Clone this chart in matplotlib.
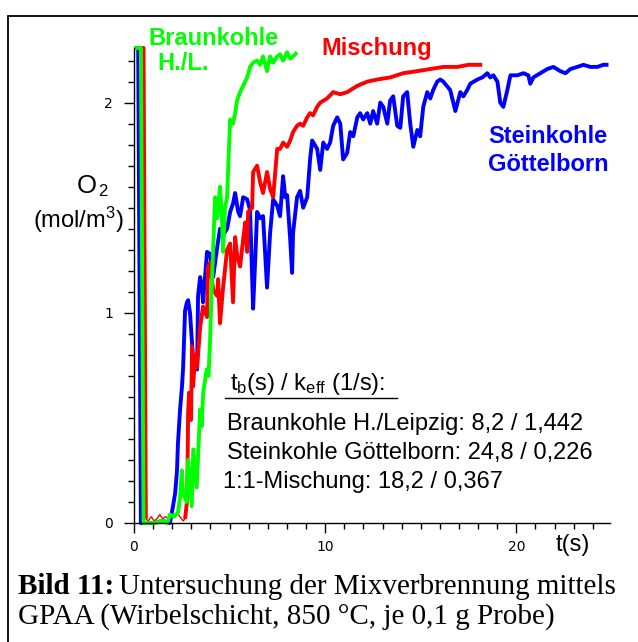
import matplotlib.pyplot as plt
import numpy as np
from matplotlib.patches import Rectangle
from matplotlib.lines import Line2D

plt.rcParams['font.family'] = ['Liberation Sans', 'DejaVu Sans']
plt.rcParams['mathtext.fontset'] = 'custom'
plt.rcParams['mathtext.rm'] = 'Liberation Sans'
plt.rcParams['mathtext.it'] = 'Liberation Sans'

# Braunkohle H./Leipzig
t_braun = [0.0, 0.36, 0.50, 0.6, 1.0, 1.5, 1.75, 1.88, 2.1, 2.3, 2.41, 2.50, 2.57, 2.76,
           2.83, 3.02, 3.10, 3.28, 3.46, 3.54, 3.62, 3.80, 3.90, 3.98, 4.05, 4.14, 4.24,
           4.35, 4.50, 4.60, 4.66, 4.76, 4.87, 4.92, 5.03, 5.18, 5.29, 5.39, 5.55, 5.71,
           5.92, 6.07, 6.23, 6.44, 6.60, 6.75, 6.96, 7.12, 7.28, 7.49, 7.64, 7.80, 8.01,
           8.17, 8.32, 8.53]
o2_braun = [2.26, 2.26, 0.0, 0.0, 0.0, 0.01, 0.0, 0.04, 0.03, 0.05, 0.12, 0.25, 0.14, 0.10,
            0.30, 0.08, 0.35, 0.17, 0.54, 0.46, 0.62, 0.73, 0.70, 0.87, 1.08, 1.30, 1.55,
            1.45, 1.60, 1.45, 1.29, 1.50, 1.55, 1.67, 1.92, 1.90, 1.95, 2.01, 2.05, 2.08,
            2.12, 2.17, 2.19, 2.20, 2.18, 2.22, 2.15, 2.22, 2.19, 2.22, 2.23, 2.20, 2.24,
            2.21, 2.22, 2.24]

# Steinkohle Göttelborn
t_stein = [0.0, 0.22, 0.36, 1.0, 1.5, 1.88, 2.04, 2.15, 2.25, 2.30, 2.41, 2.51, 2.57, 2.67,
           2.77, 2.83, 2.93, 3.09, 3.30, 3.35, 3.46, 3.56, 3.61, 3.82, 3.98, 4.14, 4.35,
           4.50, 4.66, 4.87, 5.03, 5.18, 5.29, 5.45, 5.55, 5.71, 5.92, 6.07, 6.23, 6.34,
           6.44, 6.60, 6.75, 6.96, 7.12, 7.28, 7.49, 7.64, 7.80, 7.91, 8.01, 8.17, 8.27,
           8.32, 8.53, 8.69, 8.85, 9.06, 9.21, 9.32, 9.58, 9.74, 9.90, 10.10, 10.26, 10.42,
           10.63, 10.79, 10.94, 11.15, 11.31, 11.47, 11.68, 11.83, 11.99, 12.20, 12.36,
           12.51, 12.72, 12.88, 13.04, 13.25, 13.40, 13.56, 13.77, 13.93, 14.08, 14.29,
           14.45, 14.61, 14.82, 14.97, 15.13, 15.34, 15.50, 15.65, 15.86, 16.02, 16.18,
           16.54, 16.81, 17.07, 17.23, 17.43, 17.59, 17.96, 18.22, 18.48, 18.64, 18.80,
           19.01, 19.16, 19.32, 19.53, 19.69, 20.05, 20.37, 20.63, 20.73, 20.89, 21.26,
           21.62, 21.94, 22.30, 22.57, 22.83, 23.19, 23.51, 23.87, 24.24, 24.55, 24.82]
o2_stein = [2.26, 2.26, 0.0, 0.0, 0.01, 0.0, 0.08, 0.14, 0.25, 0.38, 0.54, 0.65, 0.74, 1.01,
            1.05, 1.06, 1.00, 0.78, 0.73, 1.08, 1.17, 1.12, 1.05, 1.29, 1.28, 1.17, 1.31,
            1.40, 1.37, 1.40, 1.48, 1.52, 1.57, 1.48, 1.46, 1.55, 1.54, 1.49, 1.02, 1.25,
            1.48, 1.45, 1.46, 1.12, 1.38, 1.54, 1.51, 1.46, 1.65, 1.55, 1.56, 1.35, 1.19,
            1.38, 1.55, 1.58, 1.50, 1.55, 1.73, 1.82, 1.78, 1.68, 1.81, 1.78, 1.81, 1.89,
            1.93, 1.90, 1.73, 1.76, 1.86, 1.84, 1.93, 1.95, 1.92, 1.95, 1.90,
            1.96, 1.90, 2.00, 1.98, 1.90, 2.01, 2.03, 1.89, 1.88, 2.03, 2.05,
            1.90, 1.79, 1.87, 1.84, 1.98, 2.05, 2.02, 2.06, 2.10, 2.11, 2.10,
            2.06, 1.96, 2.05, 2.03, 2.06, 2.09, 2.11, 2.12, 2.14, 2.12, 2.13,
            2.10, 2.00, 1.98, 2.06, 2.13, 2.13, 2.14, 2.13, 2.09, 2.12, 2.14,
            2.16, 2.17, 2.15, 2.14, 2.16, 2.17, 2.18, 2.17, 2.17, 2.18, 2.18]

# 1:1-Mischung
t_misch = [0.0, 0.50, 0.62, 0.75, 0.9, 1.05, 1.2, 1.35, 1.5, 1.65, 1.8, 1.95, 2.1, 2.25,
           2.4, 2.57, 2.67, 2.77, 2.80, 2.83, 2.88, 2.98, 3.04, 3.09, 3.20, 3.30, 3.46,
           3.61, 3.82, 3.87, 3.98, 4.14, 4.35, 4.40, 4.50, 4.66, 4.87, 5.03, 5.18, 5.29,
           5.40, 5.55, 5.71, 5.82, 5.92, 5.97, 6.18, 6.23, 6.44, 6.60, 6.75, 6.96, 7.12,
           7.28, 7.49, 7.64, 7.80, 8.01, 8.17, 8.32, 8.53, 8.69, 8.85, 9.06, 9.21, 9.37,
           9.58, 9.74, 10.10, 10.42, 10.79, 11.15, 11.68, 12.20, 12.72, 13.40, 14.08,
           14.82, 15.50, 16.18, 16.91, 17.50, 18.22]
o2_misch = [2.26, 2.26, 0.02, 0.01, 0.03, 0.01, 0.02, 0.04, 0.02, 0.03, 0.02, 0.04, 0.03,
            0.05, 0.03, 0.01, 0.02, 0.10, 0.25, 0.52, 0.62, 0.49, 0.84, 0.65, 0.80, 0.74,
            0.93, 1.03, 0.98, 1.22, 1.24, 1.11, 1.08, 1.16, 0.95, 1.12, 1.30, 1.33, 1.05,
            1.36, 1.27, 1.22, 1.35, 1.43, 1.29, 1.48, 1.50, 1.67, 1.70, 1.62, 1.57, 1.67,
            1.59, 1.55, 1.78, 1.78, 1.81, 1.79, 1.82, 1.86, 1.89, 1.90, 1.89, 1.93, 1.95,
            1.94, 1.98, 2.00, 2.02, 2.05, 2.04, 2.05, 2.08, 2.10, 2.11, 2.12, 2.14, 2.15,
            2.16, 2.17, 2.17, 2.18, 2.18]

W, H = 638, 642
fig = plt.figure(figsize=(W / 100, H / 100), dpi=100)


def fx(px):
    return px / W


def fy(py):
    return 1 - py / H


ax = fig.add_axes([fx(134), fy(523), fx(610) - fx(134), fy(48) - fy(523)])

lw = 2.8
ax.plot(t_stein, o2_stein, color='#0000ff', lw=lw, clip_on=False, solid_capstyle='butt')
# thin baseline stretch of the mixture run
t_m = np.array(t_misch)
o_m = np.array(o2_misch)
i0 = np.searchsorted(t_m, 0.62)
i1 = np.searchsorted(t_m, 2.67)
ax.plot(t_m[:i0 + 1], o_m[:i0 + 1], color='#ff0000', lw=lw, clip_on=False, solid_capstyle='butt')
ax.plot(t_m[i0:i1 + 1], o_m[i0:i1 + 1], color='#ff0000', lw=1.0, clip_on=False)
ax.plot(t_m[i1:], o_m[i1:], color='#ff0000', lw=lw, clip_on=False, solid_capstyle='butt')
ax.plot(t_braun, o2_braun, color='#00ff00', lw=lw, clip_on=False, solid_capstyle='butt')

ax.set_xlim(0, 24.9)
ax.set_ylim(0, 2.26)
ax.spines['top'].set_visible(False)
ax.spines['right'].set_visible(False)
for s in ['left', 'bottom']:
    ax.spines[s].set_linewidth(1.0)

ax.set_xticks([0, 10, 20])
ax.set_xticks(np.arange(0, 25, 1), minor=True)
ax.set_yticks([0, 1, 2])
ax.set_yticks(np.arange(0, 2.21, 0.1), minor=True)
ax.tick_params(which='major', direction='out', length=7, width=1, labelsize=10,
               labelfontfamily='DejaVu Sans')
ax.tick_params(which='minor', direction='out', length=4, width=1)
ax.tick_params(axis='y', pad=8)
ax.tick_params(axis='x', pad=5)

# series names
fig.text(fx(148), fy(45), 'Braunkohle', color='#00ff00', fontsize=17, fontweight='bold')
fig.text(fx(157), fy(70), 'H./L.', color='#00ff00', fontsize=17, fontweight='bold')
fig.text(fx(321), fy(55), 'Mischung', color='#ff0000', fontsize=17, fontweight='bold')
fig.text(fx(488), fy(143), 'Steinkohle', color='#0000ff', fontsize=17, fontweight='bold')
fig.text(fx(488), fy(171), 'Göttelborn', color='#0000ff', fontsize=17, fontweight='bold')

# y axis title
fig.text(fx(77), fy(193), 'O', fontsize=18.5)
fig.text(fx(98), fy(196), '2', fontsize=12)
fig.text(fx(33), fy(228), '(mol/m$^{3}$)', fontsize=17)
fig.text(fx(556), fy(551), 't(s)', fontsize=17)

# rate constants
fig.text(fx(230), fy(390), r't$_{\mathrm{b}}$(s) / k$_{\mathrm{eff}}$ (1/s):', fontsize=17)
fig.add_artist(Line2D([fx(225), fx(397)], [fy(398), fy(398)], color='black', lw=1.0))
fig.text(fx(227), fy(430), 'Braunkohle H./Leipzig: 8,2 / 1,442', fontsize=17)
fig.text(fx(227), fy(459), 'Steinkohle Göttelborn: 24,8 / 0,226', fontsize=17)
fig.text(fx(223), fy(488), '1:1-Mischung: 18,2 / 0,367', fontsize=17)

# caption
serif = ['Liberation Serif', 'DejaVu Serif']
bild = fig.text(fx(18), fy(594), 'Bild 11:', fontsize=21, fontweight='bold', family=serif)
r = fig.canvas.get_renderer()
bb = bild.get_window_extent(renderer=r)
fig.text(bb.x1 / W + 0.008, fy(594), 'Untersuchung der Mixverbrennung mittels',
         fontsize=21, family=serif)
fig.text(fx(18), fy(624), 'GPAA (Wirbelschicht, 850 °C, je 0,1 g Probe)', fontsize=21,
         family=serif)

# frame around figure and caption
fig.add_artist(Rectangle((fx(8), -0.05), 1.2, fy(16) + 0.05, transform=fig.transFigure,
                         fill=False, edgecolor='black', lw=1.3))

fig.savefig('out.png', dpi=100, facecolor='white')
